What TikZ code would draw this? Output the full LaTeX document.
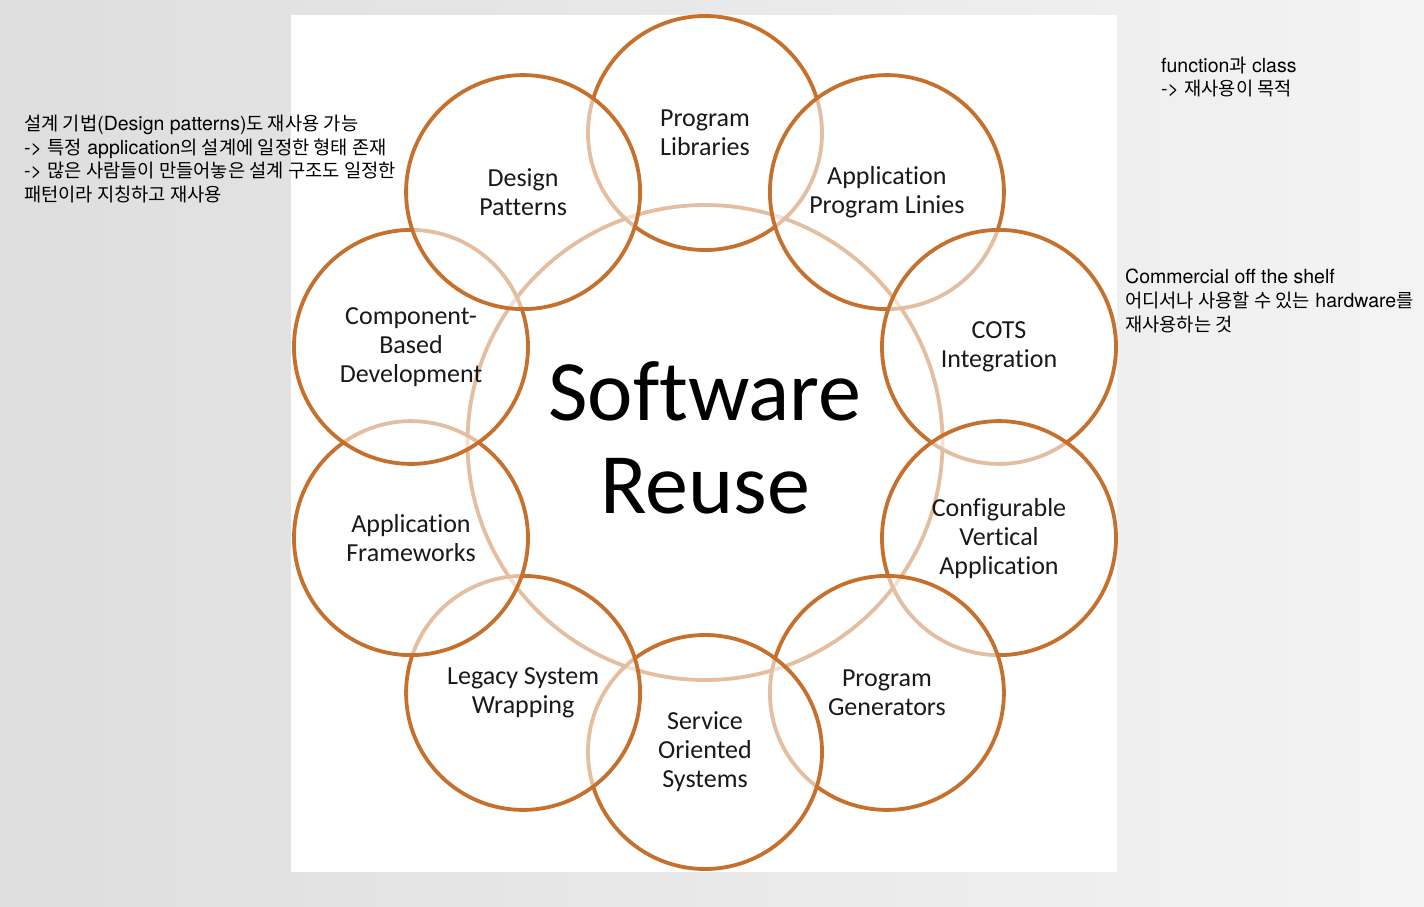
\documentclass[tikz,border=0pt]{standalone}
\usepackage{fontspec}
\setmainfont{TeX Gyre Heros}
\newfontfamily\carl[Ligatures=NoCommon]{Carlito}
\newfontfamily\kr[Scale=0.96]{Noto Sans CJK KR}
\newcommand{\K}[1]{{\kr #1}}
\definecolor{rcol}{RGB}{197,112,45}
\definecolor{txt}{RGB}{25,25,25}
\begin{document}
\begin{tikzpicture}[x=1pt,y=-1pt,
  ring/.style={circle, draw=rcol, line width=3.8pt, fill=white, fill opacity=0.55,
    text opacity=1, minimum size=234pt, inner sep=0pt, align=center, text=txt,
    font=\carl\fontsize{26}{29}\selectfont},
  note/.style={anchor=west, inner sep=0pt, align=left,
    font=\fontsize{19.5}{23.7}\selectfont, text=black}]
\useasboundingbox (0,0) rectangle (1424,906);
\shade[left color=gray!26, right color=gray!9] (0,0) rectangle (1424,906);
\fill[white] (291,15) rectangle (1117,872);
\node[circle, draw=rcol, line width=3.8pt, minimum size=475pt, inner sep=0pt] (hub) at (705,442.5) {};
\node[ring] (pl)   at (705,133)     {Program\\Libraries};
\node[ring] (ap)   at (886.9,192.1) {Application\\Program Linies};
\node[ring] (cots) at (999,346.9)   {COTS\\Integration};
\node[ring] (cva)  at (999,538.1)   {Configurable\\Vertical\\Application};
\node[ring] (pg)   at (886.9,692.9) {Program\\Generators};
\node[ring] (sos)  at (705,752)     {Service\\Oriented\\Systems};
\node[ring] (lsw)  at (523.1,692.9) {Legacy System\\Wrapping};
\node[ring] (af)   at (411,538.1)   {Application\\Frameworks};
\node[ring] (cbd)  at (411,346.9)   {Component-\\Based\\Development};
\node[ring] (dp)   at (523.1,192.1) {Design\\Patterns};
\node[font=\carl\fontsize{86}{93}\selectfont, align=center, inner sep=0pt, text=black] (title) at (705,438) {Software\\Reuse};
\node[note] (n1) at (24,159) {\K{설계 기법}(Design patterns)\K{도 재사용 가능}\\
-> \K{특정} application\K{의 설계에 일정한 형태 존재}\\
-> \K{많은 사람들이 만들어놓은 설계 구조도 일정한}\\
\K{패턴이라 지칭하고 재사용}};
\node[note] (n2) at (1161,77) {function\K{과} class\\
-> \K{재사용이 목적}};
\node[note] (n3) at (1125,301) {Commercial off the shelf\\
\K{어디서나 사용할 수 있는} hardware\K{를}\\
\K{재사용하는 것}};
\end{tikzpicture}
\end{document}
